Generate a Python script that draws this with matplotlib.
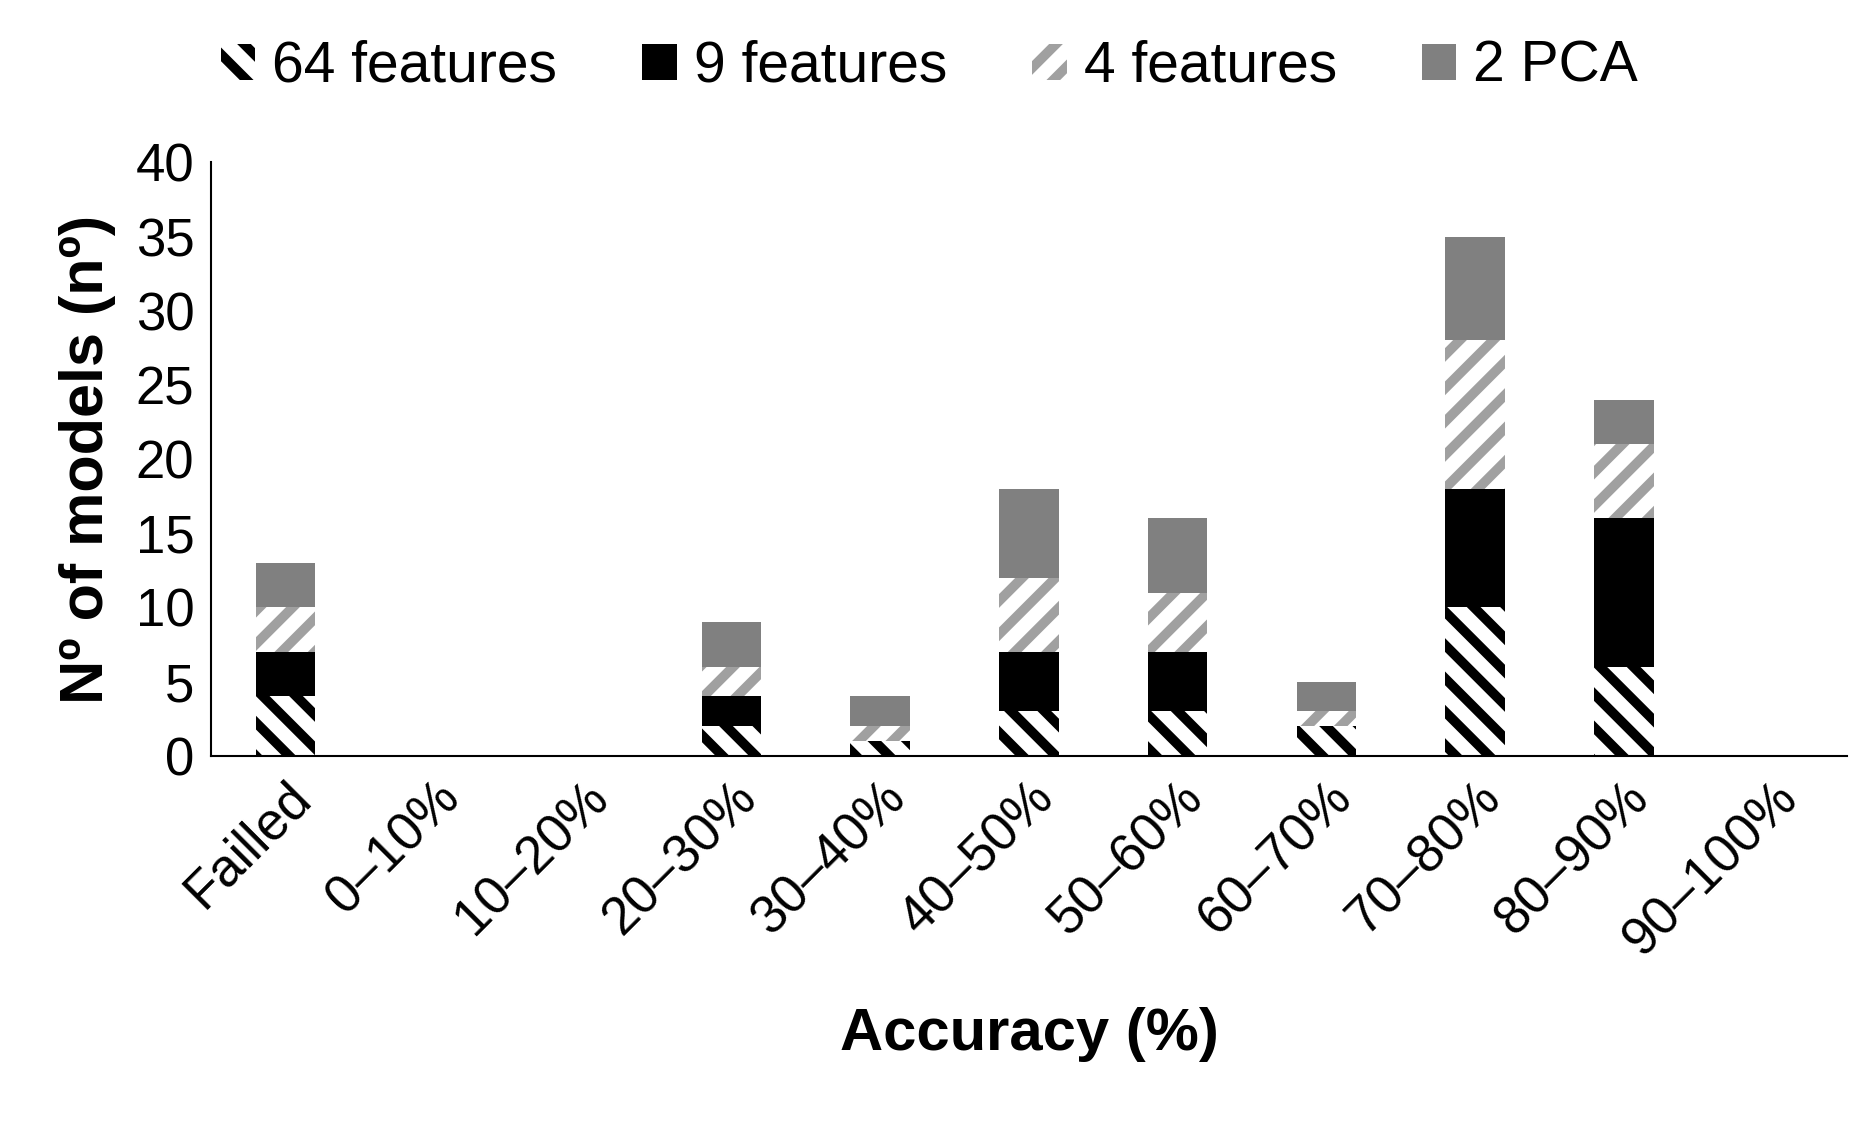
import matplotlib
matplotlib.use("Agg")
import matplotlib.pyplot as plt
import numpy as np

plt.rcParams['font.family'] = ['Liberation Sans', 'DejaVu Sans']
plt.rcParams['hatch.linewidth'] = 7

categories = ["Failled", "0\u201310%", "10\u201320%", "20\u201330%", "30\u201340%", "40\u201350%",
              "50\u201360%", "60\u201370%", "70\u201380%", "80\u201390%", "90\u2013100%"]
f64 = [4, 0, 0, 2, 1, 3, 3, 2, 10, 6, 0]
f9 = [3, 0, 0, 2, 0, 4, 4, 0, 8, 10, 0]
f4 = [3, 0, 0, 2, 1, 5, 4, 1, 10, 5, 0]
pca = [3, 0, 0, 3, 2, 6, 5, 2, 7, 3, 0]

fig = plt.figure(figsize=(18.59, 11.28), dpi=100)
ax = fig.add_axes([0.1135, 0.33, 0.88, 0.526])
x = np.arange(len(categories))
w = 0.4
b = np.zeros(len(x))
ax.bar(x, f64, w, bottom=b, facecolor='white', edgecolor='black', hatch='\\', lw=0, label='64 features')
b += f64
ax.bar(x, f9, w, bottom=b, color='black', lw=0, label='9 features')
b += f9
ax.bar(x, f4, w, bottom=b, facecolor='white', edgecolor='#a0a0a0', hatch='/', lw=0, label='4 features')
b += f4
ax.bar(x, pca, w, bottom=b, color='#808080', lw=0, label='2 PCA')

ax.set_ylim(0, 40)
ax.set_yticks(range(0, 41, 5))
ax.set_xlim(-0.5, len(x) - 0.5)
ax.set_xticks(x)
ax.set_xticklabels(categories, rotation=45, ha='right', rotation_mode='anchor')
ax.tick_params(axis='both', labelsize=38, length=0, pad=12)
for s in ['top', 'right']:
    ax.spines[s].set_visible(False)
for s in ['left', 'bottom']:
    ax.spines[s].set_linewidth(1.5)
ax.set_ylabel('N\u00ba of models (n\u00ba)', fontsize=44, fontweight='bold', labelpad=14)
ax.set_xlabel('Accuracy (%)', fontsize=43, fontweight='bold', labelpad=30)
fig.legend(loc='upper center', bbox_to_anchor=(0.5, 1.01), ncol=4, frameon=False,
           fontsize=41, handlelength=0.6, handleheight=0.6, columnspacing=1.5, handletextpad=0.3)
fig.savefig('out.png', dpi=100)
